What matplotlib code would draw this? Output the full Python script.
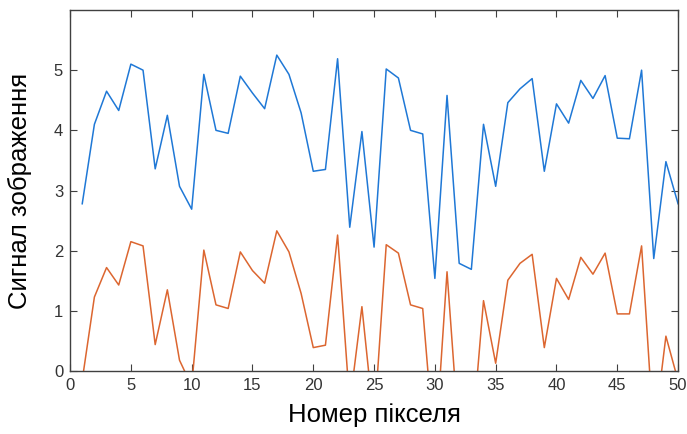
import matplotlib
matplotlib.use("Agg")
import matplotlib.pyplot as plt
import numpy as np

pixels = list(range(1, 51))
signal = [2.78, 4.10, 4.65, 4.33, 5.10, 5.00, 3.36, 4.25, 3.07, 2.69,
          4.93, 4.00, 3.95, 4.90, 4.62, 4.36, 5.25, 4.93, 4.29, 3.32,
          3.35, 5.19, 2.39, 3.98, 2.06, 5.02, 4.87, 4.00, 3.94, 1.54,
          4.58, 1.79, 1.69, 4.10, 3.07, 4.46, 4.69, 4.86, 3.32, 4.44,
          4.12, 4.83, 4.53, 4.91, 3.87, 3.86, 5.00, 1.87, 3.48, 2.78]
shifted = [-0.15, 1.23, 1.72, 1.43, 2.15, 2.08, 0.44, 1.35, 0.18, -0.25,
           2.01, 1.10, 1.04, 1.98, 1.67, 1.46, 2.33, 1.98, 1.29, 0.39,
           0.43, 2.26, -0.55, 1.07, -0.88, 2.10, 1.96, 1.10, 1.04, -1.40,
           1.65, -1.15, -1.25, 1.17, 0.13, 1.51, 1.79, 1.94, 0.39, 1.54,
           1.19, 1.89, 1.61, 1.96, 0.95, 0.95, 2.08, -1.07, 0.58, -0.16]
xticks = [0, 5, 10, 15, 20, 25, 30, 35, 40, 45, 50]
yticks = [0, 1, 2, 3, 4, 5]

plt.rcParams['font.family'] = ['Liberation Sans', 'DejaVu Sans']

fig = plt.figure(figsize=(6.87, 4.34), dpi=100)
ax = fig.add_axes([0.102, 0.145, 0.885, 0.832])
ax.plot(pixels, signal, color='#1f78d6', lw=1.1)
ax.plot(pixels, shifted, color='#dc6630', lw=1.1)
ax.set_xlim(0, 50)
ax.set_ylim(0, 6)
ax.set_xticks(xticks)
ax.set_yticks(yticks)
axc = '#404040'
for s in ax.spines.values():
    s.set_color(axc)
    s.set_linewidth(1.0)
ax.tick_params(direction='in', length=5, width=0.8, color=axc, labelcolor='#333333',
               labelsize=12, top=True, right=True, pad=5)
ax.set_xlabel('Номер пікселя', fontsize=18.5, color='#000000', labelpad=7)
ax.set_ylabel('Сигнал зображення', fontsize=18.5, color='#000000', labelpad=16)
fig.savefig('out.png', dpi=100)
